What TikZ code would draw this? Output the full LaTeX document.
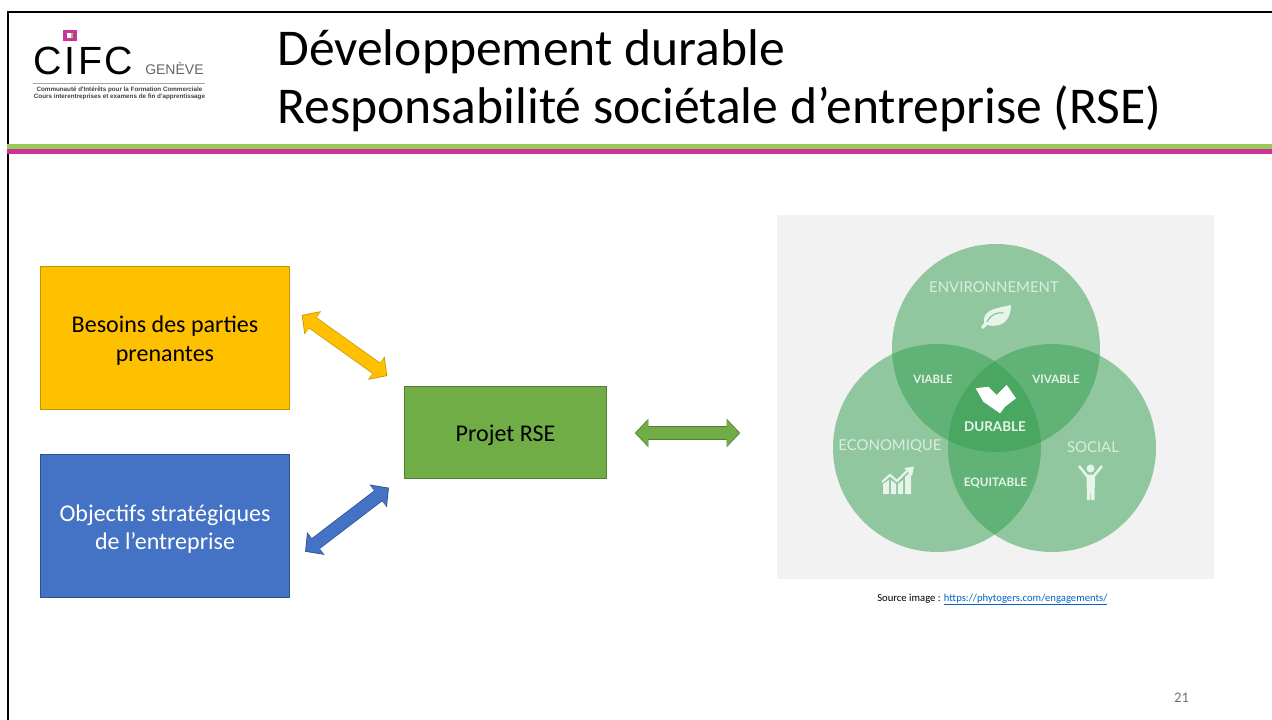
\documentclass[tikz,border=0pt]{standalone}
\usepackage{fontspec}
\setmainfont{Carlito}
\newfontfamily\logofont[LetterSpace=7]{Liberation Sans}
\newfontfamily\arialfont{Liberation Sans}
\newfontfamily\vennfont{Lato}
\usetikzlibrary{arrows.meta}

\newcommand{\nudge}{\rule{0pt}{17pt}}

\definecolor{goldfill}{HTML}{FFC000}
\definecolor{golddraw}{HTML}{C49400}
\definecolor{bluefill}{HTML}{4472C4}
\definecolor{bluedraw}{HTML}{2F528F}
\definecolor{greenfill}{HTML}{70AD47}
\definecolor{greendraw}{HTML}{507E32}
\definecolor{barfill}{HTML}{98CA58}
\definecolor{magentafill}{HTML}{CC3399}
\definecolor{venngreen}{HTML}{329E4E}
\definecolor{vennback}{HTML}{F2F2F2}
\definecolor{vennlabel}{HTML}{E6F4E9}
\definecolor{vennpale}{HTML}{D8EEDD}
\definecolor{linkblue}{HTML}{0563C1}

\tikzset{
  box/.style={draw, line width=0.6pt, inner sep=0pt, align=center, font=\fontsize{18}{21.6}\selectfont},
  venn/.style={fill=venngreen, fill opacity=0.5},
  vennlab/.style={text=vennlabel, inner sep=0pt, font=\vennfont\bfseries\fontsize{#1}{#1}\selectfont},
  vennbig/.style={text=vennpale, inner sep=0pt, font=\vennfont\fontsize{#1}{#1}\selectfont},
  blockarrow/.style n args={2}{
    line width=8.9pt, draw=#1,
    {Triangle[length=9pt,width=19pt]}-{Triangle[length=9pt,width=19pt]},
    preaction={draw=#2, line width=10pt,
      {Triangle[length=10.2pt,width=21pt]}-{Triangle[length=10.2pt,width=21pt]},
      shorten >=-0.9pt, shorten <=-0.9pt},
  },
}

\begin{document}
\begin{tikzpicture}[x=0.75pt, y=-0.75pt]
    \useasboundingbox (0, 0) rectangle (1272, 720);

    % frame and title bars
    \draw[line width=1.9pt] (8, 720) -- (8, 12) -- (1272, 12);
    \fill[barfill] (7, 144) rectangle (1272, 149);
    \fill[magentafill] (7, 149) rectangle (1272, 154);

    % logo
    \fill[magentafill] (63, 30) rectangle (77, 41);
    \fill[white] (67, 33) rectangle (71, 38);
    \fill[barfill] (71, 33) rectangle (73, 38);
    \node[anchor=base west, inner sep=0pt, font=\logofont\fontsize{29.5}{29.5}\selectfont] (logoname) at (33, 75) {CIFC};
    \node[anchor=base west, inner sep=0pt, text=black!60, font=\arialfont\fontsize{10.5}{10.5}\selectfont] (logocity) at (145, 75) {GENÈVE};
    \draw[black!35, line width=0.6pt] (33, 83) -- (205, 83);
    \node[inner sep=0pt, text=black!75, font=\arialfont\bfseries\fontsize{4.7}{4.7}\selectfont] (logoline) at (119.5, 89.5) {Communauté d'Intérêts pour la Formation Commerciale};
    \node[inner sep=0pt, text=black!75, font=\arialfont\bfseries\fontsize{4.7}{4.7}\selectfont] (logocours) at (119.5, 96.5) {Cours interentreprises et examens de fin d'apprentissage};

    % title
    \node[anchor=base west, inner sep=0pt, font=\fontsize{38.7}{38.7}\selectfont] (titleone) at (277, 66) {Développement durable};
    \node[anchor=base west, inner sep=0pt, font=\fontsize{38.7}{38.7}\selectfont] (titletwo) at (277, 124) {Responsabilité sociétale d’entreprise (RSE)};

    % left boxes
    \node[box, fill=goldfill, draw=golddraw, minimum width=187pt, minimum height=107.5pt] (besoins) at (165, 338) {\nudge Besoins des parties\\prenantes};
    \node[box, fill=bluefill, draw=bluedraw, text=white, minimum width=187pt, minimum height=107.5pt] (objectifs) at (165, 526) {\nudge Objectifs stratégiques\\de l’entreprise};
    \node[box, fill=greenfill, draw=greendraw, minimum width=152pt, minimum height=69pt] (projet) at (505.5, 432) {\nudge Projet RSE};

    % block arrows
    \coordinate (besoinsend) at (302.7, 315.7);
    \coordinate (projetnord) at (386.3, 375.3);
    \coordinate (objectifsend) at (306, 551);
    \coordinate (projetsud) at (388, 488.4);
    \coordinate (projetest) at (636, 433);
    \coordinate (vennouest) at (739, 433);
    \draw[blockarrow={goldfill}{golddraw}] (besoinsend) -- (projetnord);
    \draw[blockarrow={bluefill}{bluedraw}] (objectifsend) -- (projetsud);
    \draw[blockarrow={greenfill}{greendraw}] (projetest) -- (vennouest);

    % venn image
    \fill[vennback] (777, 215) rectangle (1214, 579);
    \fill[venn] (996, 348) circle[radius=104];
    \fill[venn] (937, 448) circle[radius=104];
    \fill[venn] (1052, 448) circle[radius=104];

    \node[vennbig=11.2] (environnement) at (994, 287) {ENVIRONNEMENT};
    \node[vennlab=8.6] (viable) at (933, 379) {VIABLE};
    \node[vennlab=8.7] (vivable) at (1056, 379) {VIVABLE};
    \node[vennlab=10.1] (durable) at (995, 427) {DURABLE};
    \node[vennbig=11.2] (economique) at (890, 446) {ECONOMIQUE};
    \node[vennbig=11.2] (social) at (1093, 447.5) {SOCIAL};
    \node[vennlab=8.8] (equitable) at (995.5, 483) {EQUITABLE};

    % icons
    \fill[vennlabel] (984, 323) .. controls (982, 309) and (998, 308) .. (1011, 305)
      .. controls (1011, 318) and (1004, 329) .. (987, 325) -- (983, 329) -- (981, 327) -- cycle;
    \draw[venngreen!70!white, line width=0.7pt] (987, 322) .. controls (991, 314) and (997, 312) .. (1004, 313);
    \fill[white] (975.7, 388.3) -- (988.3, 386.7) -- (996.7, 395) -- (1006.7, 385) -- (1016, 398.3)
      -- (1005, 406.7) -- (1000, 413.3) -- (983.3, 401.7) -- cycle;
    \fill[vennlabel] (883, 494) -- (883, 484) -- (889, 480) -- (889, 494) -- cycle;
    \fill[vennlabel] (891, 494) -- (891, 480) -- (896, 484) -- (896, 494) -- cycle;
    \fill[vennlabel] (898, 494) -- (898, 484) -- (903, 480) -- (903, 494) -- cycle;
    \fill[vennlabel] (905, 494) -- (905, 477) -- (911, 471) -- (911, 494) -- cycle;
    \draw[vennlabel, line width=1.6pt] (882, 482) -- (890, 475) -- (897, 481) -- (908, 470);
    \fill[vennlabel] (904, 468) -- (914, 466.5) -- (912, 476) -- cycle;
    \fill[vennlabel] (1090.5, 468.5) circle[radius=4];
    \draw[vennlabel, line width=1.9pt] (1079, 466) -- (1087, 476) -- (1094, 476) -- (1102, 466);
    \fill[vennlabel] (1086.5, 475) -- (1095, 475) -- (1094.5, 500) -- (1091.2, 500) -- (1090.7, 488) -- (1090.2, 500) -- (1087, 500) -- cycle;

    % source and page number
    \node[anchor=base west, inner sep=0pt, font=\fontsize{8}{8}\selectfont] (source) at (877, 601) {Source image : \textcolor{linkblue}{\underline{https://phytogers.com/engagements/}}};
    \node[inner sep=0pt, text=black!55, font=\fontsize{11}{11}\selectfont] (pagenum) at (1181.5, 698) {21};
  \end{tikzpicture}
\end{document}
